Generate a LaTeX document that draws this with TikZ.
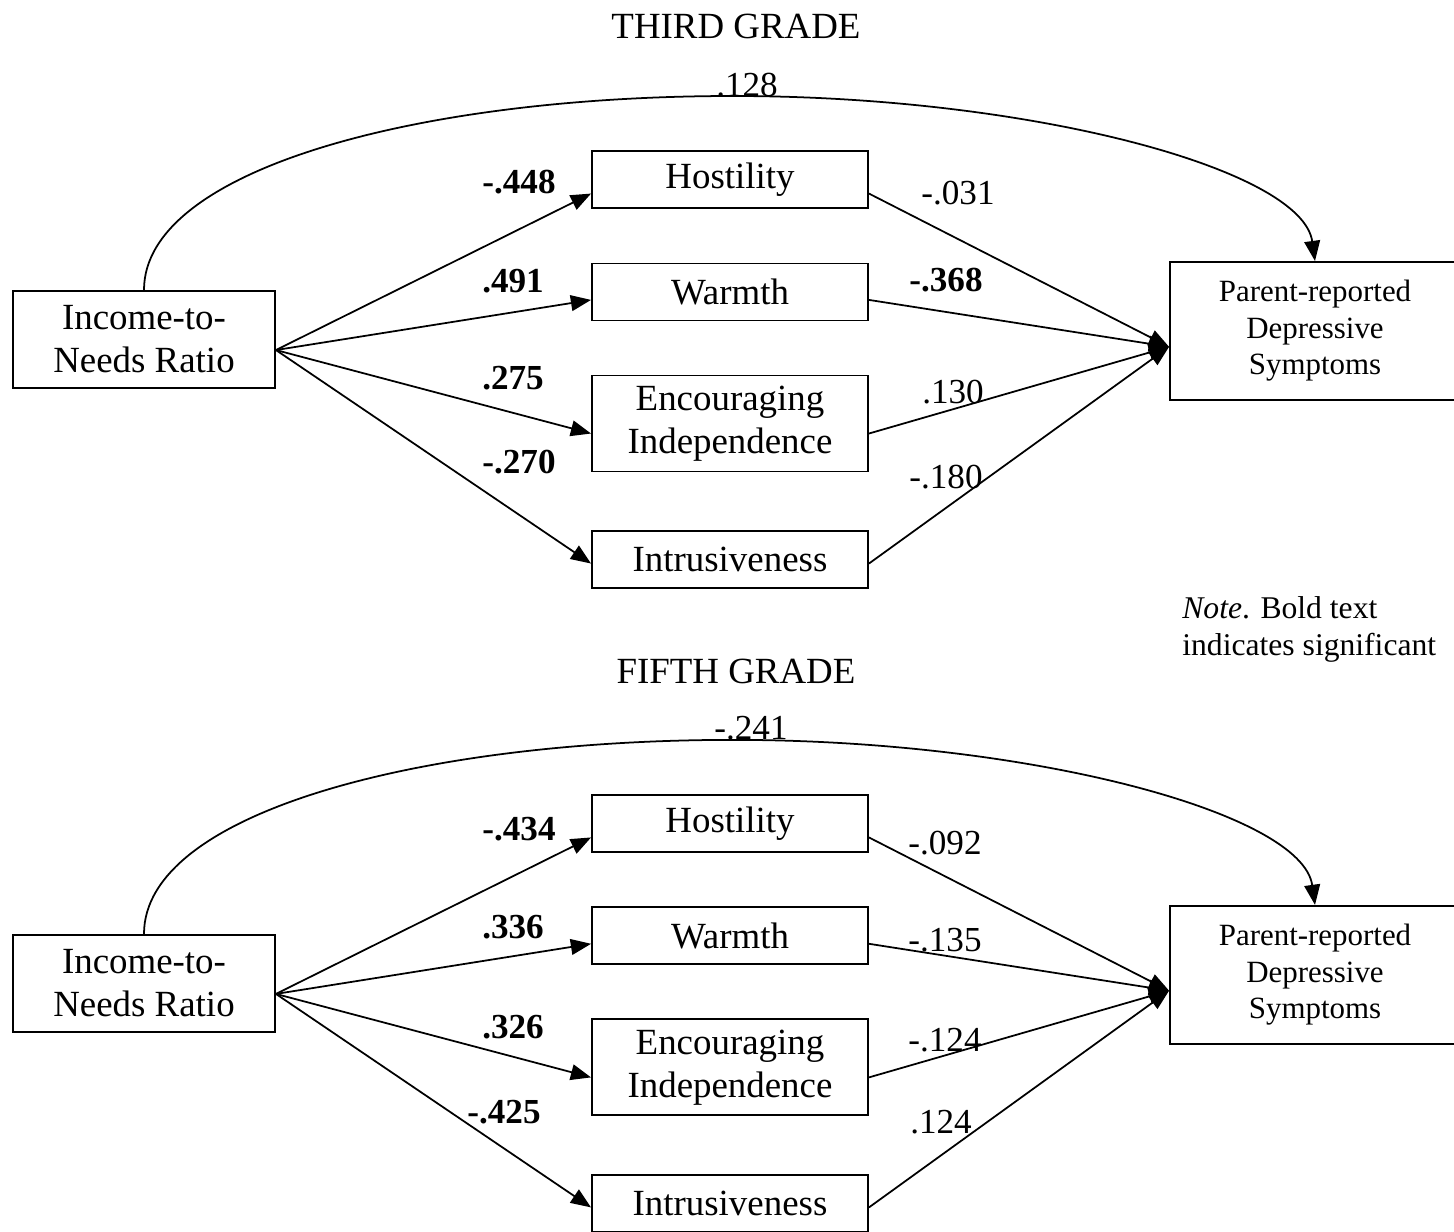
\documentclass[tikz,border=0pt]{standalone}
\usepackage{fontspec}
\setmainfont{Liberation Serif}
\usetikzlibrary{arrows.meta}

\tikzset{
  box/.style={draw, line width=1.1pt, minimum width=5.52cm, minimum height=1.14cm,
    inner sep=0pt, align=center, font=\fontsize{21}{24.5}\selectfont},
  outbox/.style={box, minimum width=5.8cm, minimum height=2.76cm,
    font=\fontsize{17.6}{20.8}\selectfont},
  head/.style={inner sep=0pt, font=\fontsize{21}{25}\selectfont},
  coef/.style={inner sep=0pt, font=\fontsize{20}{24}\selectfont},
  sig/.style={inner sep=0pt, font=\fontsize{20}{24}\selectfont\bfseries},
  link/.style={line width=1pt, -{Triangle[length=11.5pt,width=9pt]}}
}

\begin{document}
\begin{tikzpicture}[x=0.02cm, y=-0.02cm]
\useasboundingbox (0,0) rectangle (1454,1231);

% third grade
\node[head] (title3) at (736,26) {THIRD GRADE};
\node[box, minimum width=5.24cm, minimum height=1.94cm] (inc3) at (144,339.5) {Income-to-\\Needs Ratio};
\node[box] (hos3) at (730,179.5) {Hostility};
\node[box] (war3) at (730,292) {Warmth};
\node[box, minimum height=1.92cm] (enc3) at (730,423.5) {Encouraging\\Independence};
\node[box] (int3) at (730,559.5) {Intrusiveness};
\node[outbox] (dep3) at (1315,331) {Parent-reported\\Depressive\\Symptoms};

\coordinate (top3) at (733,96);
\draw[link] (inc3.north) .. controls +(0,-121) and +(-313,0) .. (top3)
  .. controls +(297,0) and +(-13,-92) .. (dep3.north);

\draw[link] ([yshift=-6pt]inc3.east) -- ([yshift=-8pt]hos3.west);
\draw[link] ([yshift=-6pt]inc3.east) -- ([yshift=-4.5pt]war3.west);
\draw[link] ([yshift=-6pt]inc3.east) -- ([yshift=-5.7pt]enc3.west);
\draw[link] ([yshift=-6pt]inc3.east) -- ([yshift=-2.3pt]int3.west);
\draw[link] ([yshift=-8pt]hos3.east) -- ([yshift=-9pt]dep3.west);
\draw[link] ([yshift=-4.5pt]war3.east) -- ([yshift=-9pt]dep3.west);
\draw[link] ([yshift=-5.7pt]enc3.east) -- ([yshift=-9pt]dep3.west);
\draw[link] ([yshift=-2.3pt]int3.east) -- ([yshift=-9pt]dep3.west);

\node[coef] (c3) at (747,85) {.128};
\node[sig] (h3) at (519,182) {-.448};
\node[sig] (w3) at (513,281) {.491};
\node[sig] (e3) at (513,378) {.275};
\node[sig] (i3) at (519,462) {-.270};
\node[coef] (hd3) at (958,193) {-.031};
\node[sig] (wd3) at (946,280) {-.368};
\node[coef] (ed3) at (953,392) {.130};
\node[coef] (id3) at (946,477) {-.180};

\node[anchor=north west, inner sep=0pt, align=left, font=\fontsize{18}{21}\selectfont]
  (note) at (1182,596) {\textit{Note}. Bold text\\indicates significant};

% fifth grade
\begin{scope}[yshift=-12.88cm]
\node[head] (title5) at (736,28) {FIFTH GRADE};
\node[box, minimum width=5.24cm, minimum height=1.94cm] (inc5) at (144,339.5) {Income-to-\\Needs Ratio};
\node[box] (hos5) at (730,179.5) {Hostility};
\node[box] (war5) at (730,292) {Warmth};
\node[box, minimum height=1.92cm] (enc5) at (730,423.5) {Encouraging\\Independence};
\node[box] (int5) at (730,559.5) {Intrusiveness};
\node[outbox] (dep5) at (1315,331) {Parent-reported\\Depressive\\Symptoms};

\coordinate (top5) at (733,96);
\draw[link] (inc5.north) .. controls +(0,-121) and +(-313,0) .. (top5)
  .. controls +(297,0) and +(-13,-92) .. (dep5.north);

\draw[link] ([yshift=-6pt]inc5.east) -- ([yshift=-8pt]hos5.west);
\draw[link] ([yshift=-6pt]inc5.east) -- ([yshift=-4.5pt]war5.west);
\draw[link] ([yshift=-6pt]inc5.east) -- ([yshift=-5.7pt]enc5.west);
\draw[link] ([yshift=-6pt]inc5.east) -- ([yshift=-2.3pt]int5.west);
\draw[link] ([yshift=-8pt]hos5.east) -- ([yshift=-9pt]dep5.west);
\draw[link] ([yshift=-4.5pt]war5.east) -- ([yshift=-9pt]dep5.west);
\draw[link] ([yshift=-5.7pt]enc5.east) -- ([yshift=-9pt]dep5.west);
\draw[link] ([yshift=-2.3pt]int5.east) -- ([yshift=-9pt]dep5.west);

\node[coef] (c5) at (751,84) {-.241};
\node[sig] (h5) at (519,185) {-.434};
\node[sig] (w5) at (513,283) {.336};
\node[sig] (e5) at (513,383) {.326};
\node[sig] (i5) at (504,468) {-.425};
\node[coef] (hd5) at (945,199) {-.092};
\node[coef] (wd5) at (945,296) {-.135};
\node[coef] (ed5) at (945,396) {-.124};
\node[coef] (id5) at (941,478) {.124};
\end{scope}

\end{tikzpicture}
\end{document}
